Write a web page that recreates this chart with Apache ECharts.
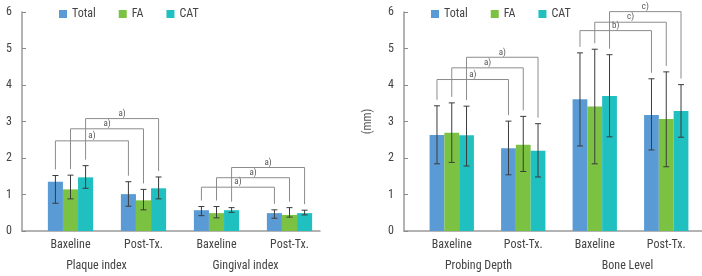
<!DOCTYPE html>
<html>
<head>
<meta charset="utf-8">
<script src="https://cdn.jsdelivr.net/npm/echarts@6/dist/echarts.min.js"></script>
<style>
  html, body { margin: 0; padding: 0; background: #fff; }
  #main { width: 702px; height: 276px; }
</style>
</head>
<body>
<div id="main"></div>
<script>
// categories
var categories = ['Baxeline', 'Post-Tx.', 'Baxeline', 'Post-Tx.'];
var leftGroups = ['Plaque index', 'Gingival index'];
var rightGroups = ['Probing Depth', 'Bone Level'];
var seriesNames = ['Total', 'FA', 'CAT'];
var yTicks = [0, 1, 2, 3, 4, 5, 6];

// left panel (index values)
var leftTotal = [1.35, 1.01, 0.57, 0.49];
var leftFA    = [1.14, 0.84, 0.49, 0.44];
var leftCAT   = [1.47, 1.17, 0.57, 0.49];
var leftTotalLow  = [0.76, 0.68, 0.42, 0.35];
var leftTotalHigh = [1.52, 1.35, 0.67, 0.58];
var leftFALow     = [0.88, 0.58, 0.36, 0.38];
var leftFAHigh    = [1.53, 1.14, 0.67, 0.64];
var leftCATLow    = [1.17, 0.88, 0.51, 0.44];
var leftCATHigh   = [1.79, 1.48, 0.64, 0.57];

// right panel (mm)
var rightTotal = [2.63, 2.27, 3.61, 3.18];
var rightFA    = [2.69, 2.36, 3.41, 3.07];
var rightCAT   = [2.62, 2.20, 3.70, 3.29];
var rightTotalLow  = [1.84, 1.54, 2.33, 2.22];
var rightTotalHigh = [3.43, 3.01, 4.88, 4.17];
var rightFALow     = [1.88, 1.63, 1.84, 1.76];
var rightFAHigh    = [3.51, 3.14, 4.98, 4.36];
var rightCATLow    = [1.78, 1.48, 2.58, 2.57];
var rightCATHigh   = [3.42, 2.94, 4.83, 4.01];

// significance brackets: [fromCat, toCat, seriesIdx, level]
var leftBrackets = [[0, 1, 0, 2.47], [0, 1, 1, 2.80], [0, 1, 2, 3.08],
                    [2, 3, 0, 1.20], [2, 3, 1, 1.46], [2, 3, 2, 1.74]];
var leftBracketLabels = ['a)', 'a)', 'a)', 'a)', 'a)', 'a)'];
var rightBrackets = [[0, 1, 0, 4.15], [0, 1, 1, 4.47], [0, 1, 2, 4.76],
                     [2, 3, 0, 5.49], [2, 3, 1, 5.72], [2, 3, 2, 6.01]];
var rightBracketLabels = ['a)', 'a)', 'a)', 'b)', 'c)', 'c)'];

var colors = ['#5b9bd5', '#7cc242', '#20bfc0'];
var FONT = '"Liberation Sans Narrow", "Roboto Condensed", "Arial Narrow", sans-serif';
var CAT_GAP = 0.38;

var myChart = echarts.init(document.getElementById('main'));

function errRender(params, api) {
    var cat = api.value(0), s = api.value(3);
    var lo = api.coord([cat, api.value(1)]);
    var hi = api.coord([cat, api.value(2)]);
    var barW = api.size([1, 0])[0] * (1 - CAT_GAP) / 3;
    var x = lo[0] + (s - 1) * barW;
    var st = { stroke: '#3b3b3b', lineWidth: 1 };
    return {
        type: 'group',
        children: [
            { type: 'line', shape: { x1: x, y1: hi[1], x2: x, y2: lo[1] }, style: st },
            { type: 'line', shape: { x1: x - 3, y1: hi[1], x2: x + 3, y2: hi[1] }, style: st },
            { type: 'line', shape: { x1: x - 3, y1: lo[1], x2: x + 3, y2: lo[1] }, style: st }
        ]
    };
}

function bracketRender(brackets, labels, highs) {
    return function (params, api) {
        var b = brackets[params.dataIndex];
        var s = b[2];
        var barW = api.size([1, 0])[0] * (1 - CAT_GAP) / 3;
        var p1 = api.coord([b[0], b[3]]);
        var p2 = api.coord([b[1], b[3]]);
        var x1 = p1[0] + (s - 1) * barW;
        var x2 = p2[0] + (s - 1) * barW;
        var y = p1[1];
        var e1 = api.coord([b[0], highs[s][b[0]]])[1] - 6;
        var e2 = api.coord([b[1], highs[s][b[1]]])[1] - 6;
        var st = { stroke: '#8c8c8c', lineWidth: 1, fill: null };
        return {
            type: 'group',
            children: [
                { type: 'polyline', shape: { points: [[x1, e1], [x1, y], [x2, y], [x2, e2]] }, style: st },
                { type: 'text', style: {
                    text: labels[params.dataIndex], x: (x1 + x2) / 2, y: y - 5,
                    align: 'center', verticalAlign: 'middle',
                    font: '9px ' + FONT, fill: '#555' } }
            ]
        };
    };
}

function errData(lows, highs) {
    var out = [];
    for (var i = 0; i < categories.length; i++) {
        for (var s = 0; s < 3; s++) {
            out.push([i, lows[s][i], highs[s][i], s]);
        }
    }
    return out;
}

function panelSeries(axisIdx, vals, lows, highs, brackets, labels) {
    var list = [];
    for (var s = 0; s < 3; s++) {
        list.push({
            name: seriesNames[s],
            type: 'bar',
            xAxisIndex: axisIdx, yAxisIndex: axisIdx,
            barGap: '0%', barCategoryGap: '38%',
            itemStyle: { color: colors[s] },
            data: vals[s]
        });
    }
    list.push({
        type: 'custom', xAxisIndex: axisIdx, yAxisIndex: axisIdx,
        renderItem: errRender, clip: false, z: 5,
        data: errData(lows, highs)
    });
    list.push({
        type: 'custom', xAxisIndex: axisIdx, yAxisIndex: axisIdx,
        renderItem: bracketRender(brackets, labels, highs), clip: false, z: 5,
        data: brackets.map(function (b) { return [b[0], b[3]]; })
    });
    return list;
}

var textStyle = { fontFamily: FONT, fontSize: 12, color: '#444' };
var axisLineStyle = { color: '#9a9a9a', width: 1.5 };

var option = {
    animation: false,
    color: colors,
    textStyle: textStyle,
    legend: [{
        left: 54, top: 3, icon: 'rect', itemWidth: 8, itemHeight: 8, itemGap: 23,
        textStyle: { fontFamily: FONT, fontSize: 12, color: '#444' },
        data: seriesNames
    }, {
        left: 426, top: 3, icon: 'rect', itemWidth: 8, itemHeight: 8, itemGap: 23,
        textStyle: { fontFamily: FONT, fontSize: 12, color: '#444' },
        data: seriesNames
    }],
    grid: [
        { left: 34, top: 12, width: 292, height: 219 },   // left bars
        { left: 416, top: 12, width: 292, height: 219 },  // right bars
        { left: 22, top: 12, width: 298, height: 219 },   // left frame
        { left: 404, top: 12, width: 298, height: 219 }   // right frame
    ],
    xAxis: [
        { type: 'category', gridIndex: 0, data: categories, axisLine: { show: false },
          axisTick: { show: false }, axisLabel: { margin: 8, fontFamily: FONT, fontSize: 12, color: '#444' } },
        { type: 'category', gridIndex: 1, data: categories, axisLine: { show: false },
          axisTick: { show: false }, axisLabel: { margin: 8, fontFamily: FONT, fontSize: 12, color: '#444' } },
        { type: 'category', gridIndex: 2, data: leftGroups, axisLine: { lineStyle: axisLineStyle },
          axisTick: { show: false }, axisLabel: { margin: 29, fontFamily: FONT, fontSize: 12, color: '#444' } },
        { type: 'category', gridIndex: 3, data: rightGroups, axisLine: { lineStyle: axisLineStyle },
          axisTick: { show: false }, axisLabel: { margin: 29, fontFamily: FONT, fontSize: 12, color: '#444' } }
    ],
    yAxis: [
        { type: 'value', gridIndex: 0, min: yTicks[0], max: yTicks[yTicks.length - 1], show: false },
        { type: 'value', gridIndex: 1, min: yTicks[0], max: yTicks[yTicks.length - 1], show: false },
        { type: 'value', gridIndex: 2, min: yTicks[0], max: yTicks[yTicks.length - 1], interval: 1,
          axisLine: { show: true, lineStyle: axisLineStyle },
          axisTick: { show: true, inside: true, length: 4, lineStyle: { color: '#8a8a8a' } },
          axisLabel: { margin: 10, fontFamily: FONT, fontSize: 12, color: '#444' },
          splitLine: { show: false } },
        { type: 'value', gridIndex: 3, min: yTicks[0], max: yTicks[yTicks.length - 1], interval: 1,
          name: '(mm)', nameLocation: 'middle', nameGap: 30, nameRotate: 90,
          nameTextStyle: { fontFamily: FONT, fontSize: 12, color: '#555' },
          axisLine: { show: true, lineStyle: axisLineStyle },
          axisTick: { show: true, inside: true, length: 4, lineStyle: { color: '#8a8a8a' } },
          axisLabel: { margin: 10, fontFamily: FONT, fontSize: 12, color: '#444' },
          splitLine: { show: false } }
    ],
    series: [].concat(
        panelSeries(0, [leftTotal, leftFA, leftCAT],
            [leftTotalLow, leftFALow, leftCATLow], [leftTotalHigh, leftFAHigh, leftCATHigh],
            leftBrackets, leftBracketLabels),
        panelSeries(1, [rightTotal, rightFA, rightCAT],
            [rightTotalLow, rightFALow, rightCATLow], [rightTotalHigh, rightFAHigh, rightCATHigh],
            rightBrackets, rightBracketLabels)
    )
};

myChart.setOption(option);
</script>
</body>
</html>
